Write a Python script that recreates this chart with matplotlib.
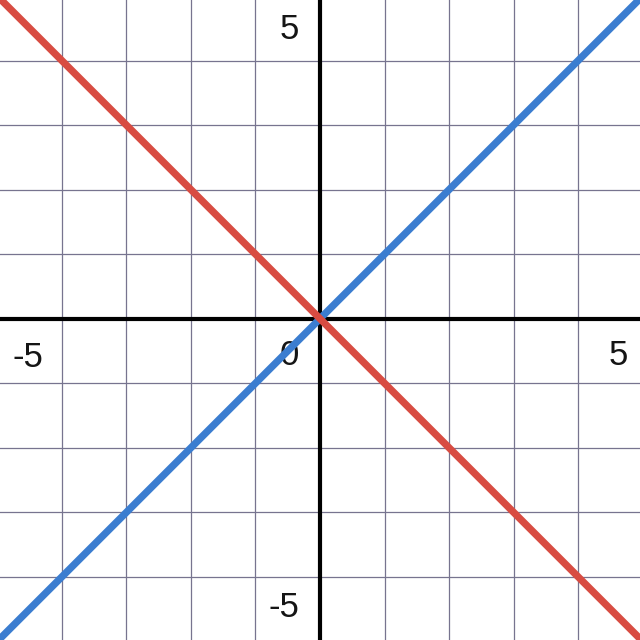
import numpy as np
import matplotlib.pyplot as plt

# data
x_vals = [-5, 5]
blue_y = [-5, 5]      # y = x
red_y = [5, -5]       # y = -x
grid_ticks = [-5, -4, -3, -2, -1, 0, 1, 2, 3, 4, 5]
labels = ['5', '-5', '0', '5', '-5']
label_pos = [(-0.48, 4.48), (-4.52, -0.6), (-0.48, -0.57), (4.62, -0.57), (-0.56, -4.47)]

fig = plt.figure(figsize=(6.4, 6.4), dpi=100)
ax = fig.add_axes([0, 0, 1, 1])
ax.set_xlim(-4.96, 4.96)
ax.set_ylim(-4.98, 4.94)

for t in grid_ticks:
    ax.axvline(t, color='#77748f', lw=0.9, zorder=1)
    ax.axhline(t, color='#77748f', lw=0.9, zorder=1)
ax.axvline(0, color='black', lw=3, zorder=2)
ax.axhline(0, color='black', lw=3, zorder=2)

for txt, (tx, ty) in zip(labels, label_pos):
    ax.text(tx, ty, txt, ha='center', va='center', fontsize=25,
            family='Liberation Sans', color='#151515', zorder=3)

ax.plot(x_vals, blue_y, color='#3b7dd0', lw=5.2, solid_capstyle='butt', zorder=4)
ax.plot(x_vals, red_y, color='#d84c42', lw=5.2, solid_capstyle='butt', zorder=5)

ax.axis('off')
fig.savefig('out.png', dpi=100)
